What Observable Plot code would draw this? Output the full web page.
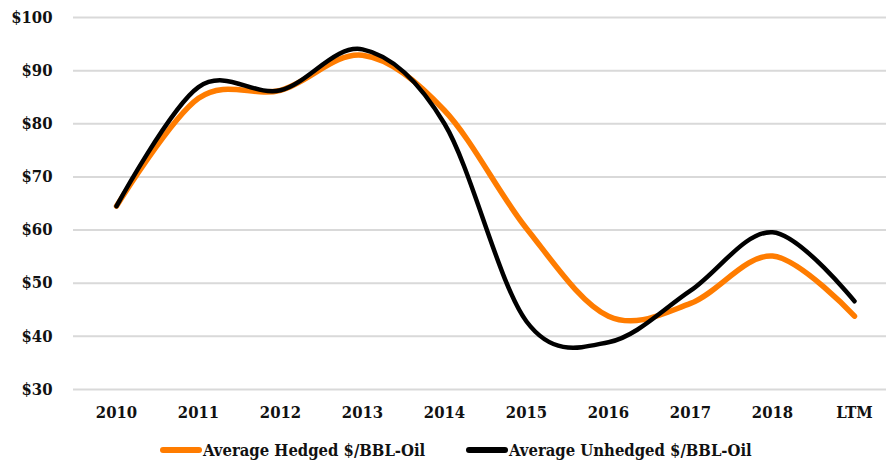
<!DOCTYPE html>
<html>
<head>
<meta charset="utf-8">
<script src="https://cdn.jsdelivr.net/npm/d3@7"></script>
<script src="https://cdn.jsdelivr.net/npm/@observablehq/plot@0.6"></script>
<style>
  html, body { margin: 0; padding: 0; background: #fff; }
  #chart { width: 888px; position: relative; }
  .legend { position: relative; height: 37px;
    font-family: "DejaVu Serif Condensed", "DejaVu Serif", serif; font-stretch: condensed; font-weight: bold; font-size: 16.5px; color: #111; }
  .item { position: absolute; top: 0; height: 44px; display: flex; align-items: center; white-space: nowrap; }
  .sw { width: 42px; height: 6px; border-radius: 3px; margin-right: 1px; }
</style>
</head>
<body>
<div id="chart"></div>
<script>
const categories = ["2010", "2011", "2012", "2013", "2014", "2015", "2016", "2017", "2018", "LTM"];
const hedged   = [64.5, 84.8, 86.3, 92.9, 82.5, 60.3, 43.8, 46.2, 55.1, 43.8];
const unhedged = [64.5, 86.9, 86.3, 94.0, 80.0, 42.8, 38.9, 48.6, 59.6, 46.6];
const yTicks = [30, 40, 50, 60, 70, 80, 90, 100];
const seriesNames = ["Average Hedged $/BBL-Oil", "Average Unhedged $/BBL-Oil"];
const seriesColors = ["#ff7c00", "#000000"];

const rowsH = categories.map((c, i) => ({cat: c, v: hedged[i]}));
const rowsU = categories.map((c, i) => ({cat: c, v: unhedged[i]}));

const fontFam = '"DejaVu Serif Condensed", "DejaVu Serif", serif';

const plot = Plot.plot({
  width: 888,
  height: 428,
  marginLeft: 73,
  marginRight: 2,
  marginTop: 17,
  marginBottom: 39,
  style: {fontFamily: fontFam, fontSize: "16.5px", fontWeight: "bold", fontStretch: "condensed", color: "#111", background: "#fff"},
  x: {type: "point", domain: categories, range: [114, 856], padding: 0, label: null},
  y: {domain: [30, 100], ticks: yTicks, label: null},
  marks: [
    Plot.gridY(yTicks, {stroke: "#d9d9d9", strokeOpacity: 1, strokeWidth: 2}),
    Plot.axisY(yTicks, {tickSize: 0, tickPadding: 21, tickFormat: d => "$" + d, label: null, fontWeight: "bold"}),
    Plot.axisX({tickSize: 0, tickPadding: 17, label: null, fontWeight: "bold"}),
    Plot.line(rowsH, {x: "cat", y: "v", stroke: seriesColors[0], strokeWidth: 5.5, curve: "cardinal", tension: 0, strokeLinecap: "round"}),
    Plot.line(rowsU, {x: "cat", y: "v", stroke: seriesColors[1], strokeWidth: 4.5, curve: "cardinal", tension: 0, strokeLinecap: "round"})
  ]
});
document.getElementById("chart").appendChild(plot);

const legend = document.createElement("div");
legend.className = "legend";
const lefts = [160, 466];
seriesNames.forEach((n, i) => {
  const it = document.createElement("div");
  it.className = "item";
  it.style.left = lefts[i] + "px";
  const sw = document.createElement("div");
  sw.className = "sw";
  sw.style.background = seriesColors[i];
  const t = document.createElement("span");
  t.textContent = n;
  it.appendChild(sw); it.appendChild(t);
  legend.appendChild(it);
});
document.getElementById("chart").appendChild(legend);
</script>
</body>
</html>
